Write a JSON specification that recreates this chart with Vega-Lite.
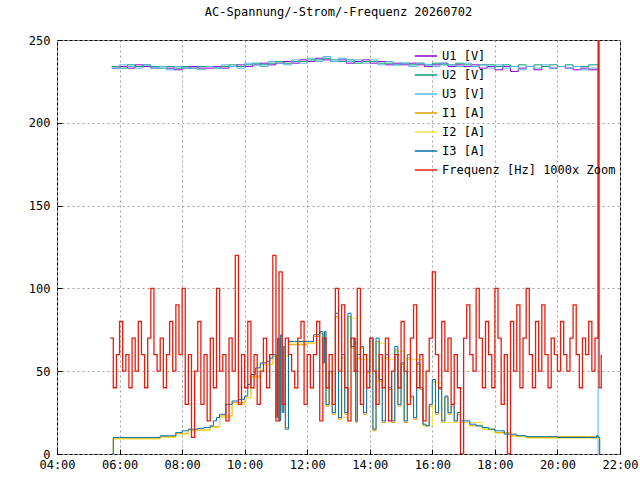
{
"$schema":"https://vega.github.io/schema/vega-lite/v6.json",
"width":563,"height":414,
"autosize":{"type":"none"},
"padding":{"left":57,"top":40,"right":20,"bottom":26},
"background":"white",
"title":{"text":"AC-Spannung/-Strom/-Frequenz 20260702","font":"DejaVu Sans Mono","fontSize":12,"fontWeight":"normal","offset":15},
"config":{"view":{"stroke":"black","strokeWidth":1},
"axis":{"labelFont":"DejaVu Sans Mono","labelFontSize":12,"labelColor":"black","grid":true,"gridDash":[2,3],"gridColor":"#a0a0a0","domain":false,"tickColor":"black","title":null,"tickSize":-5,"labelPadding":12},
"legend":{"labelFont":"DejaVu Sans Mono","labelFontSize":12,"labelColor":"black"}},
"datasets":{
"u1":[{"t":5.75,"v":233},{"t":6.0,"v":234},{"t":6.25,"v":233},{"t":6.5,"v":235},{"t":6.75,"v":234},{"t":7.0,"v":233},{"t":7.25,"v":234},{"t":7.5,"v":233},{"t":7.75,"v":232},{"t":8.0,"v":233},{"t":8.25,"v":234},{"t":8.5,"v":233},{"t":8.75,"v":233},{"t":9.0,"v":234},{"t":9.25,"v":233},{"t":9.5,"v":234},{"t":9.75,"v":235},{"t":10.0,"v":234},{"t":10.25,"v":235},{"t":10.5,"v":236},{"t":10.75,"v":235},{"t":11.0,"v":236},{"t":11.25,"v":237},{"t":11.5,"v":236},{"t":11.75,"v":238},{"t":12.0,"v":237},{"t":12.25,"v":239},{"t":12.5,"v":238},{"t":12.75,"v":237},{"t":13.0,"v":238},{"t":13.25,"v":236},{"t":13.5,"v":237},{"t":13.75,"v":238},{"t":14.0,"v":236},{"t":14.25,"v":237},{"t":14.5,"v":235},{"t":14.75,"v":236},{"t":15.0,"v":235},{"t":15.25,"v":236},{"t":15.5,"v":235},{"t":15.75,"v":234},{"t":16.0,"v":235},{"t":16.25,"v":236},{"t":16.5,"v":234},{"t":16.75,"v":235},{"t":17.0,"v":234},{"t":17.25,"v":235},{"t":17.5,"v":233},{"t":17.75,"v":234},{"t":18.0,"v":232},{"t":18.25,"v":234},{"t":18.5,"v":231},{"t":18.75,"v":233},{"t":19.0,"v":234},{"t":19.25,"v":232},{"t":19.5,"v":234},{"t":19.75,"v":233},{"t":20.0,"v":234},{"t":20.25,"v":233},{"t":20.5,"v":232},{"t":20.75,"v":233},{"t":21.0,"v":232},{"t":21.3,"v":233}],
"u2":[{"t":5.75,"v":234},{"t":6.0,"v":233},{"t":6.25,"v":235},{"t":6.5,"v":234},{"t":6.75,"v":235},{"t":7.0,"v":234},{"t":7.25,"v":233},{"t":7.5,"v":234},{"t":7.75,"v":233},{"t":8.0,"v":234},{"t":8.25,"v":233},{"t":8.5,"v":234},{"t":8.75,"v":234},{"t":9.0,"v":233},{"t":9.25,"v":234},{"t":9.5,"v":235},{"t":9.75,"v":234},{"t":10.0,"v":235},{"t":10.25,"v":236},{"t":10.5,"v":235},{"t":10.75,"v":236},{"t":11.0,"v":237},{"t":11.25,"v":236},{"t":11.5,"v":237},{"t":11.75,"v":237},{"t":12.0,"v":238},{"t":12.25,"v":238},{"t":12.5,"v":239},{"t":12.75,"v":238},{"t":13.0,"v":237},{"t":13.25,"v":238},{"t":13.5,"v":236},{"t":13.75,"v":237},{"t":14.0,"v":237},{"t":14.25,"v":236},{"t":14.5,"v":236},{"t":14.75,"v":235},{"t":15.0,"v":236},{"t":15.25,"v":235},{"t":15.5,"v":236},{"t":15.75,"v":235},{"t":16.0,"v":236},{"t":16.25,"v":235},{"t":16.5,"v":235},{"t":16.75,"v":236},{"t":17.0,"v":235},{"t":17.25,"v":234},{"t":17.5,"v":235},{"t":17.75,"v":235},{"t":18.0,"v":234},{"t":18.25,"v":235},{"t":18.5,"v":234},{"t":18.75,"v":235},{"t":19.0,"v":234},{"t":19.25,"v":235},{"t":19.5,"v":234},{"t":19.75,"v":235},{"t":20.0,"v":234},{"t":20.25,"v":235},{"t":20.5,"v":234},{"t":20.75,"v":234},{"t":21.0,"v":235},{"t":21.3,"v":234}],
"u3":[{"t":5.75,"v":233},{"t":6.0,"v":235},{"t":6.25,"v":234},{"t":6.5,"v":233},{"t":6.75,"v":235},{"t":7.0,"v":233},{"t":7.25,"v":234},{"t":7.5,"v":232},{"t":7.75,"v":234},{"t":8.0,"v":233},{"t":8.25,"v":233},{"t":8.5,"v":232},{"t":8.75,"v":234},{"t":9.0,"v":233},{"t":9.25,"v":235},{"t":9.5,"v":234},{"t":9.75,"v":233},{"t":10.0,"v":236},{"t":10.25,"v":235},{"t":10.5,"v":234},{"t":10.75,"v":237},{"t":11.0,"v":236},{"t":11.25,"v":235},{"t":11.5,"v":238},{"t":11.75,"v":236},{"t":12.0,"v":239},{"t":12.25,"v":237},{"t":12.5,"v":240},{"t":12.75,"v":237},{"t":13.0,"v":239},{"t":13.25,"v":237},{"t":13.5,"v":238},{"t":13.75,"v":236},{"t":14.0,"v":238},{"t":14.25,"v":235},{"t":14.5,"v":237},{"t":14.75,"v":235},{"t":15.0,"v":236},{"t":15.25,"v":234},{"t":15.5,"v":236},{"t":15.75,"v":235},{"t":16.0,"v":234},{"t":16.25,"v":236},{"t":16.5,"v":235},{"t":16.75,"v":234},{"t":17.0,"v":236},{"t":17.25,"v":234},{"t":17.5,"v":235},{"t":17.75,"v":233},{"t":18.0,"v":235},{"t":18.25,"v":233},{"t":18.5,"v":234},{"t":18.75,"v":232},{"t":19.0,"v":234},{"t":19.25,"v":233},{"t":19.5,"v":235},{"t":19.75,"v":233},{"t":20.0,"v":234},{"t":20.25,"v":233},{"t":20.5,"v":234},{"t":20.75,"v":232},{"t":21.0,"v":233},{"t":21.3,"v":0}],
"i1":[{"t":5.75,"v":0},{"t":5.8,"v":9.5},{"t":7.3,"v":10.5},{"t":7.8,"v":12.5},{"t":8.2,"v":14.5},{"t":8.9,"v":16.5},{"t":9.2,"v":23},{"t":9.6,"v":31},{"t":10.0,"v":34},{"t":10.2,"v":47},{"t":10.5,"v":54},{"t":10.9,"v":59},{"t":11.0,"v":23},{"t":11.05,"v":69},{"t":11.1,"v":21},{"t":11.15,"v":71},{"t":11.2,"v":26},{"t":11.25,"v":64},{"t":11.3,"v":16},{"t":11.4,"v":66},{"t":12.0,"v":67},{"t":12.2,"v":71},{"t":12.4,"v":73},{"t":12.5,"v":55},{"t":12.55,"v":73},{"t":12.6,"v":29},{"t":12.7,"v":49},{"t":12.8,"v":24},{"t":12.9,"v":83},{"t":13.0,"v":21},{"t":13.1,"v":58},{"t":13.2,"v":24},{"t":13.3,"v":83},{"t":13.4,"v":64},{"t":13.5,"v":68},{"t":13.55,"v":19},{"t":13.6,"v":58},{"t":13.7,"v":64},{"t":13.8,"v":24},{"t":13.9,"v":49},{"t":14.0,"v":68},{"t":14.1,"v":14},{"t":14.2,"v":68},{"t":14.3,"v":44},{"t":14.4,"v":19},{"t":14.5,"v":58},{"t":14.6,"v":39},{"t":14.7,"v":19},{"t":14.8,"v":63},{"t":14.9,"v":29},{"t":15.0,"v":54},{"t":15.1,"v":19},{"t":15.2,"v":58},{"t":15.3,"v":34},{"t":15.4,"v":21},{"t":15.5,"v":54},{"t":15.6,"v":39},{"t":15.7,"v":17},{"t":15.9,"v":29},{"t":16.0,"v":44},{"t":16.1,"v":24},{"t":16.2,"v":39},{"t":16.3,"v":19},{"t":16.4,"v":34},{"t":16.5,"v":24},{"t":16.6,"v":29},{"t":16.7,"v":19},{"t":16.8,"v":24},{"t":16.9,"v":19},{"t":17.2,"v":17},{"t":17.6,"v":15},{"t":18.0,"v":13},{"t":18.5,"v":11},{"t":19.0,"v":10},{"t":20.0,"v":10.5},{"t":21.0,"v":10.5},{"t":21.3,"v":10},{"t":21.35,"v":0}],
"i2":[{"t":5.75,"v":0},{"t":5.8,"v":9},{"t":7.3,"v":10},{"t":7.8,"v":12},{"t":8.2,"v":14},{"t":8.9,"v":16},{"t":9.2,"v":22},{"t":9.6,"v":30},{"t":10.0,"v":34},{"t":10.2,"v":46},{"t":10.5,"v":54},{"t":10.9,"v":59},{"t":11.4,"v":67},{"t":12.0,"v":67},{"t":12.4,"v":73},{"t":12.6,"v":30},{"t":12.9,"v":82},{"t":13.0,"v":22},{"t":13.3,"v":82},{"t":13.6,"v":57},{"t":14.0,"v":67},{"t":14.1,"v":15},{"t":14.2,"v":67},{"t":14.5,"v":57},{"t":14.8,"v":62},{"t":15.1,"v":20},{"t":15.2,"v":57},{"t":15.7,"v":17},{"t":16.0,"v":43},{"t":16.3,"v":19},{"t":16.9,"v":19},{"t":17.6,"v":15},{"t":18.0,"v":12.5},{"t":18.5,"v":10.5},{"t":19.0,"v":9.5},{"t":20.0,"v":9.5},{"t":21.0,"v":9.5},{"t":21.3,"v":9.5},{"t":21.35,"v":0}],
"i3":[{"t":5.75,"v":0},{"t":5.8,"v":10},{"t":6.0,"v":10},{"t":6.5,"v":10},{"t":7.0,"v":10},{"t":7.3,"v":11},{"t":7.6,"v":11},{"t":7.8,"v":13},{"t":8.0,"v":14},{"t":8.2,"v":15},{"t":8.5,"v":15.5},{"t":8.7,"v":16},{"t":8.9,"v":17},{"t":9.0,"v":20},{"t":9.1,"v":22},{"t":9.2,"v":24},{"t":9.4,"v":30},{"t":9.6,"v":32},{"t":9.8,"v":33},{"t":10.0,"v":35},{"t":10.1,"v":42},{"t":10.2,"v":48},{"t":10.35,"v":52},{"t":10.5,"v":55},{"t":10.7,"v":56},{"t":10.8,"v":58},{"t":10.9,"v":60},{"t":11.0,"v":22},{"t":11.05,"v":70},{"t":11.1,"v":20},{"t":11.15,"v":72},{"t":11.2,"v":25},{"t":11.25,"v":65},{"t":11.3,"v":15},{"t":11.4,"v":68},{"t":11.6,"v":68},{"t":11.8,"v":68},{"t":12.0,"v":68},{"t":12.2,"v":72},{"t":12.4,"v":74},{"t":12.5,"v":55},{"t":12.55,"v":74},{"t":12.6,"v":30},{"t":12.7,"v":50},{"t":12.8,"v":25},{"t":12.9,"v":85},{"t":13.0,"v":22},{"t":13.1,"v":60},{"t":13.2,"v":25},{"t":13.3,"v":85},{"t":13.4,"v":65},{"t":13.5,"v":70},{"t":13.55,"v":20},{"t":13.6,"v":60},{"t":13.7,"v":65},{"t":13.8,"v":25},{"t":13.9,"v":50},{"t":14.0,"v":70},{"t":14.1,"v":15},{"t":14.2,"v":70},{"t":14.3,"v":45},{"t":14.4,"v":20},{"t":14.5,"v":60},{"t":14.6,"v":40},{"t":14.7,"v":20},{"t":14.8,"v":65},{"t":14.9,"v":30},{"t":15.0,"v":55},{"t":15.1,"v":20},{"t":15.2,"v":60},{"t":15.3,"v":35},{"t":15.4,"v":22},{"t":15.5,"v":55},{"t":15.6,"v":40},{"t":15.7,"v":18},{"t":15.8,"v":17},{"t":15.9,"v":30},{"t":16.0,"v":45},{"t":16.1,"v":25},{"t":16.2,"v":40},{"t":16.3,"v":20},{"t":16.4,"v":35},{"t":16.5,"v":25},{"t":16.6,"v":30},{"t":16.7,"v":20},{"t":16.8,"v":25},{"t":16.9,"v":20},{"t":17.0,"v":20},{"t":17.2,"v":18},{"t":17.4,"v":17},{"t":17.6,"v":16},{"t":17.8,"v":15},{"t":18.0,"v":14},{"t":18.3,"v":12},{"t":18.5,"v":12},{"t":18.7,"v":11},{"t":19.0,"v":10.5},{"t":20.0,"v":10},{"t":21.0,"v":10},{"t":21.25,"v":11},{"t":21.3,"v":10},{"t":21.35,"v":0}],
"f":[{"t":5.7,"v":70},{"t":5.8,"v":40},{"t":5.9,"v":60},{"t":6.0,"v":80},{"t":6.1,"v":50},{"t":6.2,"v":60},{"t":6.3,"v":40},{"t":6.4,"v":70},{"t":6.5,"v":50},{"t":6.6,"v":80},{"t":6.7,"v":60},{"t":6.8,"v":40},{"t":6.9,"v":70},{"t":7.0,"v":100},{"t":7.1,"v":60},{"t":7.2,"v":50},{"t":7.3,"v":70},{"t":7.4,"v":40},{"t":7.5,"v":60},{"t":7.6,"v":80},{"t":7.7,"v":50},{"t":7.8,"v":90},{"t":7.9,"v":60},{"t":8.0,"v":100},{"t":8.1,"v":30},{"t":8.2,"v":60},{"t":8.3,"v":10},{"t":8.4,"v":50},{"t":8.5,"v":80},{"t":8.6,"v":30},{"t":8.7,"v":60},{"t":8.8,"v":20},{"t":8.9,"v":70},{"t":9.0,"v":40},{"t":9.1,"v":100},{"t":9.2,"v":50},{"t":9.3,"v":60},{"t":9.4,"v":20},{"t":9.5,"v":70},{"t":9.6,"v":50},{"t":9.7,"v":120},{"t":9.8,"v":30},{"t":9.9,"v":60},{"t":10.0,"v":40},{"t":10.1,"v":80},{"t":10.2,"v":40},{"t":10.3,"v":60},{"t":10.4,"v":30},{"t":10.5,"v":50},{"t":10.6,"v":70},{"t":10.7,"v":40},{"t":10.8,"v":60},{"t":10.9,"v":120},{"t":11.0,"v":20},{"t":11.1,"v":110},{"t":11.2,"v":30},{"t":11.3,"v":70},{"t":11.4,"v":60},{"t":11.5,"v":50},{"t":11.6,"v":40},{"t":11.7,"v":70},{"t":11.8,"v":80},{"t":11.9,"v":30},{"t":12.0,"v":60},{"t":12.1,"v":40},{"t":12.2,"v":60},{"t":12.3,"v":80},{"t":12.4,"v":20},{"t":12.5,"v":70},{"t":12.6,"v":40},{"t":12.7,"v":60},{"t":12.8,"v":30},{"t":12.9,"v":100},{"t":13.0,"v":50},{"t":13.1,"v":90},{"t":13.2,"v":40},{"t":13.3,"v":20},{"t":13.4,"v":70},{"t":13.5,"v":50},{"t":13.6,"v":100},{"t":13.7,"v":30},{"t":13.8,"v":60},{"t":13.9,"v":40},{"t":14.0,"v":70},{"t":14.1,"v":50},{"t":14.2,"v":30},{"t":14.3,"v":60},{"t":14.4,"v":40},{"t":14.5,"v":70},{"t":14.6,"v":20},{"t":14.7,"v":50},{"t":14.8,"v":60},{"t":14.9,"v":40},{"t":15.0,"v":80},{"t":15.1,"v":50},{"t":15.2,"v":30},{"t":15.3,"v":70},{"t":15.4,"v":90},{"t":15.5,"v":40},{"t":15.6,"v":60},{"t":15.7,"v":20},{"t":15.8,"v":50},{"t":15.9,"v":70},{"t":16.0,"v":110},{"t":16.1,"v":60},{"t":16.2,"v":40},{"t":16.3,"v":80},{"t":16.4,"v":50},{"t":16.5,"v":70},{"t":16.6,"v":30},{"t":16.7,"v":60},{"t":16.8,"v":40},{"t":16.9,"v":0},{"t":17.0,"v":70},{"t":17.1,"v":90},{"t":17.2,"v":60},{"t":17.3,"v":50},{"t":17.4,"v":100},{"t":17.5,"v":70},{"t":17.6,"v":40},{"t":17.7,"v":80},{"t":17.8,"v":60},{"t":17.9,"v":40},{"t":18.0,"v":100},{"t":18.1,"v":70},{"t":18.2,"v":30},{"t":18.3,"v":60},{"t":18.4,"v":0},{"t":18.5,"v":80},{"t":18.6,"v":50},{"t":18.7,"v":90},{"t":18.8,"v":40},{"t":18.9,"v":70},{"t":19.0,"v":100},{"t":19.1,"v":60},{"t":19.2,"v":40},{"t":19.3,"v":80},{"t":19.4,"v":50},{"t":19.5,"v":90},{"t":19.6,"v":60},{"t":19.7,"v":40},{"t":19.8,"v":70},{"t":19.9,"v":60},{"t":20.0,"v":50},{"t":20.1,"v":80},{"t":20.2,"v":60},{"t":20.3,"v":50},{"t":20.4,"v":70},{"t":20.5,"v":90},{"t":20.6,"v":60},{"t":20.7,"v":40},{"t":20.8,"v":70},{"t":20.9,"v":60},{"t":21.0,"v":80},{"t":21.1,"v":50},{"t":21.2,"v":70},{"t":21.3,"v":250},{"t":21.33,"v":40},{"t":21.4,"v":60}]
},
"encoding":{
"x":{"field":"t","type":"quantitative","scale":{"domain":[4,22],"nice":false,"zero":false},"axis":{"values":[4,6,8,10,12,14,16,18,20,22],"labelExpr":"(datum.value<10?'0':'')+datum.value+':00'","labelFlush":false,"labelPadding":10}},
"y":{"field":"v","type":"quantitative","scale":{"domain":[0,250],"nice":false},"axis":{"values":[0,50,100,150,200,250]}}
},
"layer":[
{"data":{"name":"u1"},"mark":{"type":"line","strokeWidth":1,"interpolate":"step-after","clip":true},"encoding":{"color":{"datum":"U1 [V]","type":"nominal","scale":{"domain":["U1 [V]","U2 [V]","U3 [V]","I1 [A]","I2 [A]","I3 [A]","Frequenz [Hz] 1000x Zoom"],"range":["#9400d3","#009e73","#56b4e9","#e69f00","#f0e442","#0072b2","#e51e10"]},"legend":{"title":null,"orient":"top-right","symbolType":"stroke","symbolStrokeWidth":1.5,"symbolSize":500,"labelLimit":300,"rowPadding":1,"offset":4}}}},
{"data":{"name":"u2"},"mark":{"type":"line","strokeWidth":1,"interpolate":"step-after","clip":true},"encoding":{"color":{"datum":"U2 [V]","type":"nominal"}}},
{"data":{"name":"u3"},"mark":{"type":"line","strokeWidth":1,"interpolate":"step-after","clip":true},"encoding":{"color":{"datum":"U3 [V]","type":"nominal"}}},
{"data":{"name":"i1"},"mark":{"type":"line","strokeWidth":1,"interpolate":"step-after","clip":true},"encoding":{"color":{"datum":"I1 [A]","type":"nominal"}}},
{"data":{"name":"i2"},"mark":{"type":"line","strokeWidth":1,"interpolate":"step-after","clip":true},"encoding":{"color":{"datum":"I2 [A]","type":"nominal"}}},
{"data":{"name":"i3"},"mark":{"type":"line","strokeWidth":1,"interpolate":"step-after","clip":true},"encoding":{"color":{"datum":"I3 [A]","type":"nominal"}}},
{"data":{"name":"f"},"mark":{"type":"line","strokeWidth":1.3,"interpolate":"step-after","clip":true},"encoding":{"color":{"datum":"Frequenz [Hz] 1000x Zoom","type":"nominal"}}}
]
}
